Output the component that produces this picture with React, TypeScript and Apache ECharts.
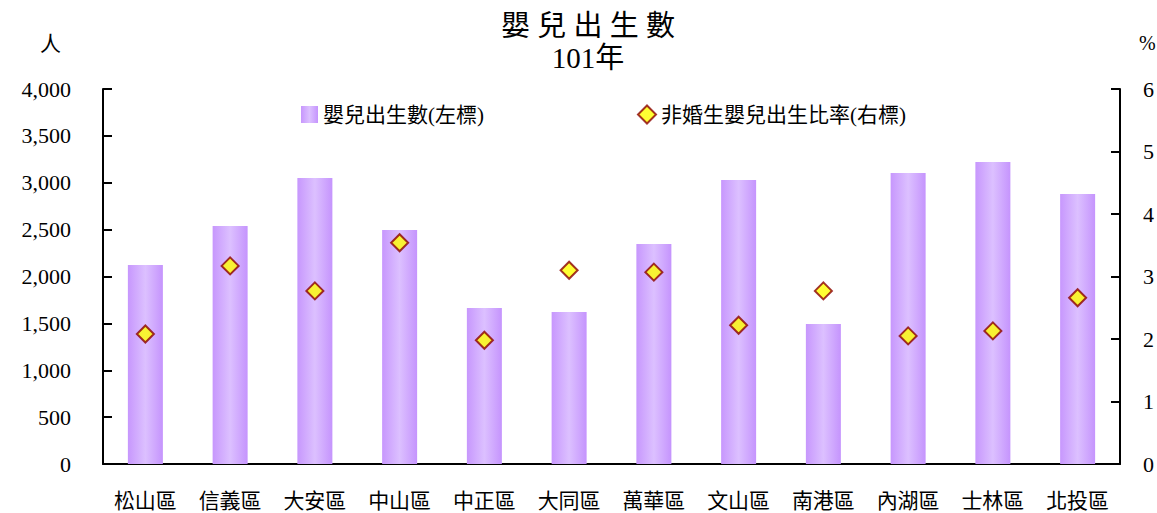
import React, { useEffect, useRef } from "react";
import * as echarts from "echarts";

const categories = ["松山區", "信義區", "大安區", "中山區", "中正區", "大同區", "萬華區", "文山區", "南港區", "內湖區", "士林區", "北投區"];
const births = [2123, 2539, 3051, 2496, 1664, 1621, 2347, 3029, 1493, 3104, 3221, 2880];
const nonMaritalRatio = [2.08, 3.17, 2.77, 3.54, 1.98, 3.10, 3.07, 2.22, 2.77, 2.05, 2.13, 2.66];
const barName = "嬰兒出生數(左標)";
const lineName = "非婚生嬰兒出生比率(右標)";
const titleLines = ["嬰 兒 出 生 數", "101年"];

const FONT = "'Liberation Serif', 'Noto Sans CJK TC', serif";

export default function App() {
  const ref = useRef<HTMLDivElement>(null);
  useEffect(() => {
    document.body.style.margin = "0";
    const chart = echarts.init(ref.current!, null, { renderer: "svg" });
    const barGradient = new echarts.graphic.LinearGradient(0, 0, 1, 0, [
      { offset: 0, color: "#c797fd" },
      { offset: 0.5, color: "#dcc0ff" },
      { offset: 1, color: "#c594fd" },
    ]);
    chart.setOption({
      animation: false,
      backgroundColor: "#ffffff",
      title: {
        text: titleLines.join("\n"),
        left: 583,
        textAlign: "center",
        top: 5,
        textStyle: { fontFamily: FONT, fontSize: 29, fontWeight: "normal", color: "#000", lineHeight: 32 },
      },
      graphic: [
        { type: "text", left: 40, top: 33, style: { text: "人", fontFamily: FONT, fontSize: 21, fill: "#000" } },
        { type: "text", left: 1139, top: 33, style: { text: "%", fontFamily: FONT, fontSize: 20, fill: "#000" } },
      ],
      legend: [
        {
          data: [{ name: barName, icon: "rect" }],
          left: 296,
          top: 99,
          itemWidth: 17,
          itemHeight: 17,
          itemGap: 12,
          textStyle: { fontFamily: FONT, fontSize: 21, color: "#000" },
        },
        {
          data: [{ name: lineName, icon: "diamond" }],
          left: 632,
          top: 99,
          itemWidth: 18,
          itemHeight: 18,
          textStyle: { fontFamily: FONT, fontSize: 21, color: "#000" },
        },
      ],
      grid: { left: 103, right: 37, top: 89, bottom: 49, containLabel: false },
      xAxis: {
        type: "category",
        data: categories,
        axisLine: { lineStyle: { color: "#000", width: 2 } },
        axisTick: { show: false },
        axisLabel: { interval: 0, hideOverlap: false, fontFamily: FONT, fontSize: 21, color: "#000", margin: 26 },
      },
      yAxis: [
        {
          type: "value",
          min: 0,
          max: 4000,
          interval: 500,
          position: "left",
          axisLine: { show: true, lineStyle: { color: "#000", width: 2 } },
          axisTick: { show: true, inside: true, length: 9, lineStyle: { color: "#000", width: 2 } },
          splitLine: { show: false },
          axisLabel: {
            fontFamily: FONT,
            fontSize: 22,
            color: "#000",
            margin: 32,
            formatter: (v: number) => v.toLocaleString("en-US"),
          },
        },
        {
          type: "value",
          min: 0,
          max: 6,
          interval: 1,
          position: "right",
          axisLine: { show: true, lineStyle: { color: "#000", width: 2 } },
          axisTick: { show: true, inside: true, length: 9, lineStyle: { color: "#000", width: 2 } },
          splitLine: { show: false },
          axisLabel: { fontFamily: FONT, fontSize: 22, color: "#000", margin: 23 },
        },
      ],
      series: [
        {
          name: barName,
          type: "bar",
          yAxisIndex: 0,
          data: births,
          barWidth: 35,
          itemStyle: { color: barGradient },
        },
        {
          name: lineName,
          type: "scatter",
          yAxisIndex: 1,
          data: nonMaritalRatio,
          symbol: "diamond",
          symbolSize: 17,
          itemStyle: { color: "#ffff00", borderColor: "#8b0000", borderWidth: 2 },
          z: 5,
        },
      ],
    });
    return () => chart.dispose();
  }, []);
  return <div ref={ref} style={{ width: 1157, height: 513 }} />;
}
